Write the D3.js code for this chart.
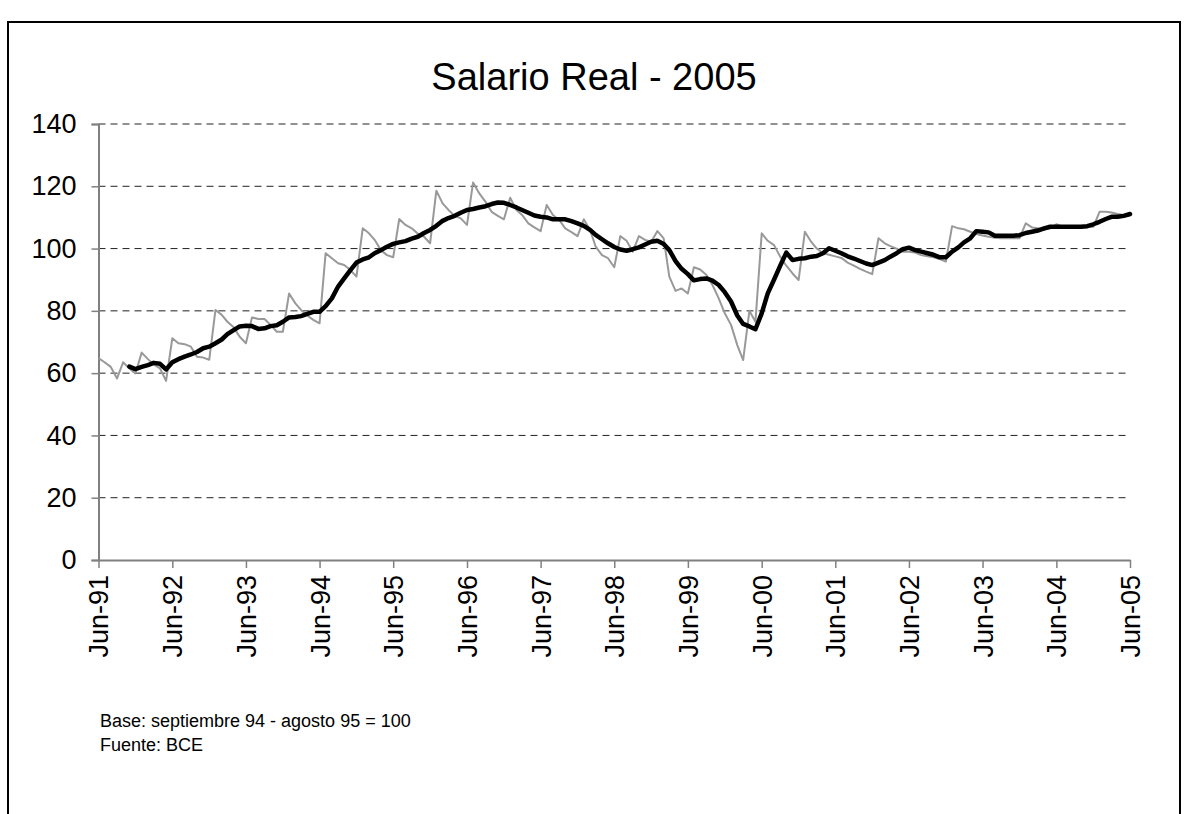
<!DOCTYPE html>
<html>
<head>
<meta charset="utf-8">
<script src="https://cdn.jsdelivr.net/npm/d3@7"></script>
<style>
body { margin: 0; background: #fff; }
text { font-family: "Liberation Sans", Arial, sans-serif; }
</style>
</head>
<body>
<div id="chart"></div>
<script>
// monthly series, first value = Jun-91
const startMonth = new Date(1991, 5, 1);

// salario real (gray, monthly)
const salario = [
    64.8, 63.5, 62.0, 58.3, 63.5, 61.5, 59.9, 66.6, 64.5, 62.8, 61.5, 57.5,   // Jun-91 .. May-92
    71.2, 69.6, 69.3, 68.5, 65.3, 65.0, 64.3, 80.3, 78.7, 76.5, 74.7, 71.7,   // Jun-92 ..
    69.6, 77.9, 77.4, 77.4, 75.5, 73.3, 73.3, 85.6, 82.4, 80.3, 78.5, 77.1,   // Jun-93 ..
    76.0, 98.5, 96.9, 95.3, 94.7, 93.1, 91.0, 106.5, 104.9, 102.8, 99.5, 97.9, // Jun-94 ..
    97.2, 109.5, 107.6, 106.5, 104.8, 103.8, 101.7, 118.6, 114.5, 112.4, 110.5, 109.7, // Jun-95 ..
    107.6, 121.2, 117.7, 115.0, 111.8, 110.5, 109.4, 116.3, 112.4, 110.8, 108.1, 106.8, // Jun-96 ..
    105.6, 114.0, 110.8, 109.2, 106.5, 105.3, 104.0, 109.4, 106.0, 100.6, 97.9, 96.9,   // Jun-97 ..
    94.0, 104.0, 102.5, 99.0, 104.0, 102.8, 102.2, 105.6, 103.3, 91.0, 86.4, 87.2,      // Jun-98 ..
    85.6, 94.0, 93.3, 91.5, 88.3, 84.0, 79.2, 75.5, 69.0, 64.2, 80.0, 76.5,             // Jun-99 ..
    104.9, 102.5, 101.1, 97.4, 94.5, 92.0, 89.9, 105.4, 102.2, 100.0, 98.5, 98.0,       // Jun-00 ..
    97.5, 97.0, 95.5, 94.5, 93.5, 92.6, 91.8, 103.3, 101.7, 100.8, 100.0, 99.0,         // Jun-01 ..
    99.0, 98.7, 97.9, 97.5, 97.2, 96.6, 95.8, 107.2, 106.5, 106.2, 105.4, 104.7,        // Jun-02 ..
    104.2, 103.8, 103.5, 103.3, 103.3, 103.3, 103.3, 108.1, 106.8, 106.5, 106.0, 106.5, // Jun-03 ..
    107.8, 107.0, 107.0, 107.0, 107.0, 107.0, 107.0, 111.8, 111.8, 111.6, 111.1, 110.8, // Jun-04 ..
    110.5                                                                                 // Jun-05
];

// tendencia (black), starts Nov-91
const tendencia = [
    null, null, null, null, null, 62.1, 61.3, 62.0, 62.6, 63.3, 63.0, 61.2,
    63.5, 64.5, 65.3, 66.0, 66.8, 68.0, 68.5, 69.6, 70.8, 72.5, 73.8, 75.0,
    75.2, 75.1, 74.2, 74.4, 75.1, 75.4, 76.5, 77.9, 78.0, 78.3, 79.0, 79.7,
    79.7, 81.5, 84.0, 87.8, 90.4, 93.1, 95.5, 96.5, 97.2, 98.5, 99.5, 100.6,
    101.5, 102.0, 102.4, 103.2, 103.8, 105.0, 106.0, 107.3, 108.9, 109.8, 110.5, 111.5,
    112.4, 112.7, 113.2, 113.6, 114.3, 114.8, 114.7, 114.0, 113.2, 112.4, 111.5, 110.6,
    110.2, 110.0, 109.4, 109.4, 109.4, 108.8, 108.1, 107.3, 106.0, 104.4, 103.0, 101.7,
    100.5, 99.7, 99.3, 99.8, 100.4, 101.3, 102.2, 102.5, 101.5, 99.5, 96.0, 93.5,
    91.8, 89.8, 90.2, 90.4, 89.7, 88.3, 86.0, 83.0, 78.5, 75.8, 75.0, 74.1,
    79.2, 85.6, 90.0, 94.5, 98.7, 96.3, 96.7, 96.9, 97.4, 97.6, 98.5, 100.1,
    99.3, 98.5, 97.5, 96.8, 96.0, 95.2, 94.7, 95.5, 96.3, 97.4, 98.5, 99.8,
    100.3, 99.5, 99.0, 98.5, 98.0, 97.2, 97.2, 99.0, 100.4, 102.0, 103.3, 105.6,
    105.4, 105.2, 104.1, 104.1, 104.1, 104.1, 104.3, 105.0, 105.4, 105.8, 106.5, 107.0,
    107.0, 107.0, 107.0, 107.0, 107.0, 107.2, 107.8, 108.6, 109.5, 110.2, 110.2, 110.5,
    111.1
];

const yTicks = [0, 20, 40, 60, 80, 100, 120, 140];
const tickYears = d3.range(1991, 2006);

const width = 1189;
const height = 814;

const svg = d3.select("#chart")
      .append("svg")
      .attr("width", width)
      .attr("height", height);

// outer frame
svg.append("rect")
    .attr("x", 8).attr("y", 22)
    .attr("width", 1172).attr("height", 820)
    .attr("fill", "none")
    .attr("stroke", "#000")
    .attr("stroke-width", 2);

const x = d3.scaleTime()
      .domain([new Date(1991, 5, 1), new Date(2005, 5, 1)])
      .range([98.5, 1130]);
const y = d3.scaleLinear()
      .domain([0, 140])
      .range([560, 124]);

const dateAt = i => d3.timeMonth.offset(startMonth, i);

// gridlines
svg.append("g")
    .selectAll("line")
    .data(yTicks.slice(1))
    .enter().append("line")
    .attr("x1", 98.5).attr("x2", 1130)
    .attr("y1", d => y(d)).attr("y2", d => y(d))
    .attr("stroke", "#222")
    .attr("stroke-width", 1)
    .attr("stroke-dasharray", "7,5");

// y axis
const yAxis = svg.append("g")
      .attr("transform", "translate(98.5,0)")
      .call(d3.axisLeft(y).tickValues(yTicks).tickSize(7).tickPadding(15));
yAxis.select(".domain").attr("stroke", "#808080").attr("stroke-width", 2);
yAxis.selectAll(".tick line").attr("stroke", "#808080").attr("stroke-width", 1.5);
yAxis.selectAll(".tick text")
    .attr("font-size", 27)
    .attr("fill", "#000")
    .style("font-family", "'Liberation Sans', Arial, sans-serif");

// x axis
const xAxis = svg.append("g")
      .attr("transform", "translate(0,560)")
      .call(d3.axisBottom(x)
            .tickValues(tickYears.map(yr => new Date(yr, 5, 1)))
            .tickFormat(d3.timeFormat("%b-%y"))
            .tickSize(8)
            .tickSizeOuter(0));
xAxis.select(".domain").attr("stroke", "#808080").attr("stroke-width", 2);
xAxis.selectAll(".tick line").attr("stroke", "#808080").attr("stroke-width", 1.5);
xAxis.selectAll(".tick text")
    .attr("font-size", 27)
    .attr("fill", "#000")
    .style("font-family", "'Liberation Sans', Arial, sans-serif")
    .attr("text-anchor", "end")
    .attr("transform", "rotate(-90)")
    .attr("x", -15)
    .attr("y", 0)
    .attr("dy", "0.35em");

// lines
const line = d3.line()
      .defined(d => d != null)
      .x((d, i) => x(dateAt(i)))
      .y(d => y(d));

svg.append("path")
    .datum(salario)
    .attr("d", line)
    .attr("fill", "none")
    .attr("stroke", "#999")
    .attr("stroke-width", 2)
    .attr("stroke-linejoin", "round");

svg.append("path")
    .datum(tendencia)
    .attr("d", line)
    .attr("fill", "none")
    .attr("stroke", "#000")
    .attr("stroke-width", 4.5)
    .attr("stroke-linejoin", "round")
    .attr("stroke-linecap", "round");

// title
svg.append("text")
    .attr("x", 594)
    .attr("y", 90)
    .attr("text-anchor", "middle")
    .attr("font-size", 38)
    .text("Salario Real - 2005");

// notes
svg.append("text")
    .attr("x", 100).attr("y", 727)
    .attr("font-size", 18)
    .text("Base: septiembre 94 - agosto 95 = 100");
svg.append("text")
    .attr("x", 100).attr("y", 751)
    .attr("font-size", 18)
    .text("Fuente: BCE");
</script>
</body>
</html>
